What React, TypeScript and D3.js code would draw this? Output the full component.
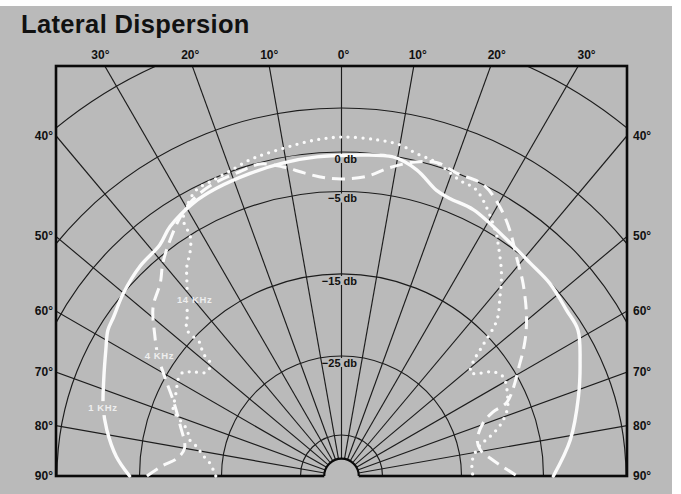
import React from 'react';
import * as d3 from 'd3';

// grid definition
const gridAngles = [-90, -80, -70, -60, -50, -40, -30, -20, -10, 0, 10, 20, 30, 40, 50, 60, 70, 80, 90];
const gridDb = [-35, -25, -15, -5, 0, 5, 15];
const dbLabels = [0, -5, -15, -25];
const topLabels = [-30, -20, -10, 0, 10, 20, 30];
const sideLabels = [40, 50, 60, 70, 80, 90];
const capDb = -38;

// [angle from axis in degrees, level in db]
const oneKhz: [number, number][] = [
  [-90, -13.8], [-85.1, -12.1], [-78.9, -10.5], [-73.8, -9.4], [-68, -8.4], [-61.9, -7.1], [-58, -6.1],
  [-55.1, -5.8], [-50.1, -5.0], [-43.9, -4.2], [-38.2, -3.8], [-34.5, -2.7], [-28.5, -1.7], [-23.5, -1.3],
  [-16.8, -1.0], [-10.5, -0.7], [-4.4, -0.5], [1.5, -0.4], [9.2, -0.1], [13.8, -1.1], [18.4, -2.9],
  [21.3, -3.3], [26.4, -3.4], [35, -4.5], [41.5, -5.0], [47.3, -5.1], [53.6, -5.6], [58.3, -5.8],
  [64.7, -7.5], [71.5, -9.2], [81, -11.4], [90, -13.8],
];

const fourKhz: [number, number][] = [
  [-90, -15.9], [-86.8, -17.7], [-83.8, -19.5], [-79.9, -20.2], [-72.5, -19.0], [-65.7, -17.1],
  [-60.9, -15.0], [-56.6, -12.8], [-52.9, -11.1], [-48.1, -8.8], [-43.2, -7.4], [-40, -5.8],
  [-36, -4.1], [-31.9, -2.4], [-28.3, -1.3], [-23.4, -0.6], [-18.5, -0.4], [-14.6, -0.2],
  [-10.7, -1.2], [-6.9, -2.4], [-3.2, -3.2], [0.7, -3.4], [5, -2.9], [8.9, -1.5], [13.2, -0.2],
  [17, 0.4], [20.8, 0.0], [26, 0.0], [30.5, -1.5], [34.4, -3.3], [38.6, -5.5], [43.3, -7.4],
  [49.3, -9.9], [53.5, -11.8], [57.7, -13.9], [65.9, -17.5], [67.1, -19.6], [69.5, -21.2],
  [75.1, -22.5], [79.4, -22.4], [83.1, -21.4], [86.8, -19.9], [90, -18.2],
];

const fourteenKhz: [number, number][] = [
  [-90, -24.3], [-84.4, -23.5], [-81.4, -22.5], [-78.7, -21.7], [-76.6, -20.6], [-73.4, -20.0],
  [-70.9, -18.8], [-68.6, -17.6], [-64.6, -17.2], [-61.6, -16.8], [-59.6, -16.5], [-57, -16.5],
  [-55, -17.5], [-52.3, -18.9], [-49.3, -18.5], [-48.4, -17.0], [-46.8, -16.0], [-46.6, -13.7],
  [-44.1, -12.6], [-39.7, -10.2], [-36.4, -7.9], [-34.2, -6.8], [-32.3, -5.2], [-31.7, -2.9],
  [-29.9, -1.7], [-26.9, -0.4], [-23.5, -0.2], [-20, 0.1], [-16.1, 0.6], [-13.1, 0.8],
  [-8.9, 1.1], [-4.2, 1.5], [0.3, 1.7], [6, 1.6], [10, 1.4], [13.1, 0.8], [16.9, 0.4],
  [21.8, -0.7], [25.3, -1.0], [32, -4.3], [34.4, -5.8], [38.3, -8.2], [41.5, -10.5],
  [44.9, -12.8], [47.2, -16.1], [49.1, -18.4], [51.3, -19.5], [53.4, -18.6], [55.5, -17.2],
  [58.5, -16.5], [64.6, -17.2], [68.3, -17.9], [72.2, -19.3], [75.3, -21.0], [77.4, -22.3],
  [81.8, -23.4], [86.1, -23.7], [90, -23.6],
];

const curveLabels = [
  { text: '14 KHz', a: -43.1, db: -10.3 },
  { text: '4 KHz', a: -58.8, db: -11.6 },
  { text: '1 KHz', a: -75.0, db: -7.7 },
];

const W = 681;
const H = 494;
const BG = '#bababa';
const INK = '#1c1c1c';
const cx = 341.5;
const cy = 476;
const frame = { x0: 56, x1: 627, y0: 66, y1: 476 };

// the printed db rings are not evenly spaced, so the radial scale is piecewise
const rScale = d3.scaleLinear()
  .domain([-35, -25, -15, -5, 0, 5, 15])
  .range([41, 120, 202, 284.5, 324, 368, 450]);
const rad = (a: number) => (a * Math.PI) / 180;
const pt = (a: number, r: number): [number, number] => [cx + r * Math.sin(rad(a)), cy - r * Math.cos(rad(a))];

const line = d3.line<[number, number]>()
  .x(d => pt(d[0], rScale(d[1]))[0])
  .y(d => pt(d[0], rScale(d[1]))[1])
  .curve(d3.curveCatmullRom.alpha(0.5));

function arcPath(r: number) {
  const p = d3.path();
  p.arc(cx, cy, r, -Math.PI, 0);
  return p.toString();
}

const labelFont = '"Liberation Sans", Arial, Helvetica, sans-serif';
const CURVE_LABEL_SIZE = 9.5;

export default function App() {
  const capR = rScale(capDb);
  const halfW = frame.x1 - cx;
  const labelBoxes = curveLabels.map(l => {
    const [x, y] = pt(l.a, rScale(l.db));
    const w = l.text.length * 5.6 + 2;
    return { ...l, x, y, w };
  });
  return (
    <div style={{ position: 'absolute', left: 0, top: 0 }}>
      <svg width={W} height={H} viewBox={`0 0 ${W} ${H}`} style={{ display: 'block' }}>
        <defs>
          <clipPath id="frame-clip">
            <rect x={frame.x0} y={frame.y0} width={frame.x1 - frame.x0} height={frame.y1 - frame.y0} />
          </clipPath>
          <mask id="label-gaps">
            <rect x={0} y={0} width={W} height={H} fill="#fff" />
            {labelBoxes.map(b => (
              <rect key={b.text} x={b.x - 3} y={b.y - 7} width={b.w + 6} height={14} fill="#000" />
            ))}
          </mask>
        </defs>
        <rect x={0} y={0} width={W} height={H} fill="#fff" />
        <rect x={0} y={6} width={672} height={H - 6} fill={BG} />

        <text x={21} y={33} fontFamily={labelFont} fontWeight="bold" fontSize={25.5} fill="#111" letterSpacing={0.35}>
          Lateral Dispersion
        </text>

        <g clipPath="url(#frame-clip)" fill="none" stroke={INK} strokeWidth={1.15}>
          {gridDb.map(db => (
            <path key={db} d={arcPath(rScale(db))} />
          ))}
          {gridAngles.map(a => {
            const [x1, y1] = pt(a, capR);
            const [x2, y2] = pt(a, 700);
            return <line key={a} x1={x1} y1={y1} x2={x2} y2={y2} />;
          })}
        </g>

        <rect x={frame.x0} y={frame.y0} width={frame.x1 - frame.x0} height={frame.y1 - frame.y0}
          fill="none" stroke="#0a0a0a" strokeWidth={2.6} />

        {/* centre cap */}
        <circle cx={cx} cy={cy} r={capR} fill={BG} />
        <path d={arcPath(capR)} fill="none" stroke="#0a0a0a" strokeWidth={2.2} />

        {/* db label backgrounds break the 0 degree line */}
        {dbLabels.map(db => (
          <rect key={db} x={337} y={cy - rScale(db) + 2} width={10} height={9} fill={BG} />
        ))}

        {/* angle labels along the top */}
        {topLabels.map(a => {
          const x = cx + (cy - 55) * Math.tan(rad(a));
          return (
            <text key={a} x={x + 2} y={59} textAnchor="middle" fontFamily={labelFont} fontWeight="bold"
              fontSize={12} fill="#111">{`${Math.abs(a)}\u00b0`}</text>
          );
        })}
        {/* angle labels on the sides */}
        {sideLabels.map(a => {
          const y = a === 90 ? cy : cy - halfW / Math.tan(rad(a));
          return (
            <g key={a}>
              <text x={53} y={y + 4} textAnchor="end" fontFamily={labelFont} fontWeight="bold"
                fontSize={12} fill="#111">{`${a}\u00b0`}</text>
              <text x={633} y={y + 4} textAnchor="start" fontFamily={labelFont} fontWeight="bold"
                fontSize={12} fill="#111">{`${a}\u00b0`}</text>
            </g>
          );
        })}

        {/* response curves */}
        <g fill="none" stroke="#fbfbfb" strokeLinecap="round" mask="url(#label-gaps)">
          <path d={line(oneKhz) || ''} strokeWidth={3.4} />
          <path d={line(fourKhz) || ''} strokeWidth={3} strokeDasharray="13 7" strokeLinecap="butt" />
          <path d={line(fourteenKhz) || ''} strokeWidth={3.3} strokeDasharray="0 7.4" />
        </g>

        {/* db labels drawn over the curves */}
        {dbLabels.map(db => {
          const y = cy - rScale(db);
          const label = db === 0 ? '0 db' : `\u2212${Math.abs(db)} db`;
          return (
            <text key={db} x={357} y={y + 10.5} textAnchor="end" fontFamily={labelFont} fontWeight="bold"
              fontSize={11} fill="#111">{label}</text>
          );
        })}

        {labelBoxes.map(b => (
          <text key={b.text} x={b.x} y={b.y} fontFamily={labelFont} fontWeight="bold" fontSize={CURVE_LABEL_SIZE}
            letterSpacing={0.6} fill="#eeeeee" dominantBaseline="middle">{b.text}</text>
        ))}
      </svg>
    </div>
  );
}
